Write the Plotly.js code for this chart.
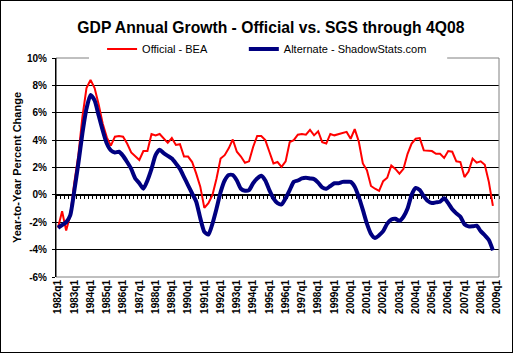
<!DOCTYPE html>
<html>
<head>
<meta charset="utf-8">
<script src="https://cdn.plot.ly/plotly-3.0.1.min.js"></script>
<style>
html,body{margin:0;padding:0;background:#fff;}
#wrap{position:relative;width:513px;height:353px;}
#chart{position:absolute;left:0;top:0;width:513px;height:353px;}
#frame{position:absolute;left:0;top:0;width:511px;height:351px;border:1px solid #000;pointer-events:none;}
</style>
</head>
<body>
<div id="wrap"><div id="chart"></div><div id="frame"></div></div>
<script>
// Quarter labels 1982q1 .. 2009q1
const firstYear = 1982;
const lastYear = 2009;
const quarters = [];
for (let y = firstYear; y <= lastYear; y++) {
  for (let q = 1; q <= 4; q++) {
    if (y === lastYear && q > 1) break;
    quarters.push(y + 'q' + q);
  }
}

// Official - BEA (year-to-year % change), 1982q1 .. 2008q4
const officialBEA = [
  -2.4, -1.2, -2.6, -1.5, 0.9, 2.9, 5.7, 7.8, 8.4, 7.8,
  6.6, 5.2, 4.2, 3.6, 4.25, 4.3, 4.25, 3.75, 3.1, 2.8,
  2.55, 3.2, 3.2, 4.45, 4.35, 4.45, 4.1, 3.8, 4.15, 3.65,
  3.7, 2.8, 2.8, 2.4, 1.55, 0.6, -0.95, -0.6, 0.0, 1.2,
  2.65, 2.9, 3.4, 4.05, 3.15, 2.8, 2.35, 2.45, 3.5, 4.3,
  4.3, 4.0, 3.15, 2.3, 2.4, 2.05, 2.45, 3.85, 4.0, 4.4,
  4.45, 4.4, 4.75, 4.35, 4.65, 3.85, 3.75, 4.45, 4.35, 4.45,
  4.5, 4.6, 4.1, 4.8, 3.9, 2.3, 1.8, 0.65, 0.45, 0.3,
  1.0, 1.25, 2.15, 1.9, 1.55, 1.9, 3.0, 3.75, 4.1, 4.15,
  3.25, 3.2, 3.2, 3.0, 3.0, 2.7, 3.2, 3.15, 2.45, 2.4,
  1.3, 1.7, 2.65, 2.35, 2.45, 2.2, 0.95, -0.8
];

// Alternate - ShadowStats.com, 1982q1 .. 2008q4
const alternateSGS = [
  -2.4, -2.2, -2.0, -1.5, 0.3, 2.3, 4.5, 6.3, 7.3, 6.9,
  5.8, 4.7, 3.75, 3.25, 3.1, 3.15, 2.85, 2.4, 1.9, 1.2,
  0.85, 0.45, 1.05, 1.9, 2.9, 3.3, 3.05, 2.85, 2.65, 2.3,
  1.9, 1.3, 0.7, 0.1, -0.5, -1.7, -2.7, -2.9, -2.1, -1.0,
  0.2, 1.05, 1.45, 1.45, 1.05, 0.45, 0.3, 0.35, 0.85, 1.2,
  1.4, 1.05, 0.35, -0.25, -0.6, -0.7, -0.25, 0.35, 0.95, 1.05,
  1.2, 1.25, 1.2, 1.15, 0.9, 0.55, 0.45, 0.65, 0.85, 0.85,
  0.95, 0.95, 0.95, 0.6, -0.15, -1.1, -2.1, -2.85, -3.15, -2.95,
  -2.65, -2.1, -1.8, -1.75, -1.9, -1.6, -1.0, 0.0, 0.5, 0.35,
  -0.1, -0.45, -0.6, -0.55, -0.5, -0.25, -0.6, -1.05, -1.35, -1.6,
  -2.15, -2.3, -2.3, -2.25, -2.65, -2.95, -3.3, -4.05
];

const yTicks = [-6, -4, -2, 0, 2, 4, 6, 8, 10];
const tickLabels = quarters.filter(q => q.endsWith('q1'));

const FONT = 'Liberation Sans, Arial, sans-serif';

const traces = [
  {
    x: quarters.slice(0, officialBEA.length), y: officialBEA,
    name: 'Official - BEA', type: 'scatter', mode: 'lines',
    line: {color: '#FF0000', width: 2}, legend: 'legend'
  },
  {
    x: quarters.slice(0, alternateSGS.length), y: alternateSGS,
    name: 'Alternate - ShadowStats.com', type: 'scatter', mode: 'lines',
    line: {color: '#000080', width: 4, shape: 'spline', smoothing: 0.6}, legend: 'legend2'
  },
  {
    // carrier for the category-axis line with its tick marks at 0%
    x: [null], y: [null], xaxis: 'x2', yaxis: 'y', type: 'scatter', mode: 'lines',
    showlegend: false, hoverinfo: 'skip'
  }
];

const legendFont = {family: FONT, size: 11, color: '#000'};

const layout = {
  width: 513, height: 353,
  margin: {l: 56, r: 14, t: 58, b: 76},
  paper_bgcolor: '#fff', plot_bgcolor: '#fff',
  font: {family: FONT, color: '#000'},
  title: {
    text: 'GDP Annual Growth - Official vs. SGS through 4Q08',
    font: {family: FONT, size: 15.7, weight: 'bold', color: '#000'},
    x: 0.528, xanchor: 'center', y: 0.923, yanchor: 'middle'
  },
  showlegend: true,
  legend: {
    orientation: 'h', x: 0.104, xanchor: 'left', y: 1.041, yanchor: 'middle',
    bgcolor: 'rgba(0,0,0,0)', borderwidth: 0, font: legendFont
  },
  legend2: {
    orientation: 'h', x: 0.424, xanchor: 'left', y: 1.041, yanchor: 'middle',
    bgcolor: 'rgba(0,0,0,0)', borderwidth: 0, font: legendFont
  },
  xaxis: {
    type: 'category', categoryorder: 'array', categoryarray: quarters,
    range: [-0.5, quarters.length - 0.5],
    tickmode: 'array', tickvals: tickLabels, ticktext: tickLabels,
    tickangle: -90, ticks: '', showgrid: false, zeroline: false, showline: false,
    tickfont: {family: FONT, size: 10, weight: 'bold', color: '#000'},
    fixedrange: true
  },
  xaxis2: {
    type: 'linear', overlaying: 'x', anchor: 'free', position: 0.375, side: 'bottom',
    range: [-0.5, quarters.length - 0.5], tick0: 0.5, dtick: 1, tickmode: 'linear',
    ticks: 'outside', ticklen: 3, tickcolor: '#000', tickwidth: 1,
    showticklabels: false, showgrid: false, zeroline: false,
    showline: true, linecolor: '#000', linewidth: 1, layer: 'below traces'
  },
  yaxis: {
    range: [-6, 10], tickmode: 'array', tickvals: yTicks,
    ticktext: yTicks.map(v => v + '%'),
    showgrid: true, gridcolor: '#000', gridwidth: 1,
    zeroline: false, showline: true, linecolor: '#000', linewidth: 1,
    ticks: 'outside', ticklen: 3, tickcolor: '#000', ticklabelstandoff: 3,
    tickfont: {family: FONT, size: 10, weight: 'bold', color: '#000'},
    title: {text: 'Year-to-Year Percent Change', standoff: 3,
            font: {family: FONT, size: 11, weight: 'bold', color: '#000'}},
    automargin: false
  },
  shapes: [
    // white strip behind the legend, hiding the top border there
    {type: 'line', xref: 'paper', yref: 'paper', x0: 0.0745, x1: 0.883, y0: 1, y1: 1,
     line: {color: '#fff', width: 3}, layer: 'above'},
    // gray plot-area border (top pieces, right, bottom)
    {type: 'line', xref: 'paper', yref: 'paper', x0: 0, x1: 0.0745, y0: 1, y1: 1,
     line: {color: '#808080', width: 1}, layer: 'above'},
    {type: 'line', xref: 'paper', yref: 'paper', x0: 0.883, x1: 1, y0: 1, y1: 1,
     line: {color: '#808080', width: 1}, layer: 'above'},
    {type: 'line', xref: 'paper', yref: 'paper', x0: 1, x1: 1, y0: 0, y1: 1,
     line: {color: '#808080', width: 1}, layer: 'above'},
    {type: 'line', xref: 'paper', yref: 'paper', x0: 0, x1: 1, y0: 0, y1: 0,
     line: {color: '#808080', width: 1}, layer: 'above'},
    {type: 'line', xref: 'paper', yref: 'paper', x0: 0, x1: 0, y0: 0, y1: 1,
     line: {color: '#000', width: 1}, layer: 'above'}
  ]
};

Plotly.newPlot('chart', traces, layout, {staticPlot: true, displayModeBar: false});
</script>
</body>
</html>
